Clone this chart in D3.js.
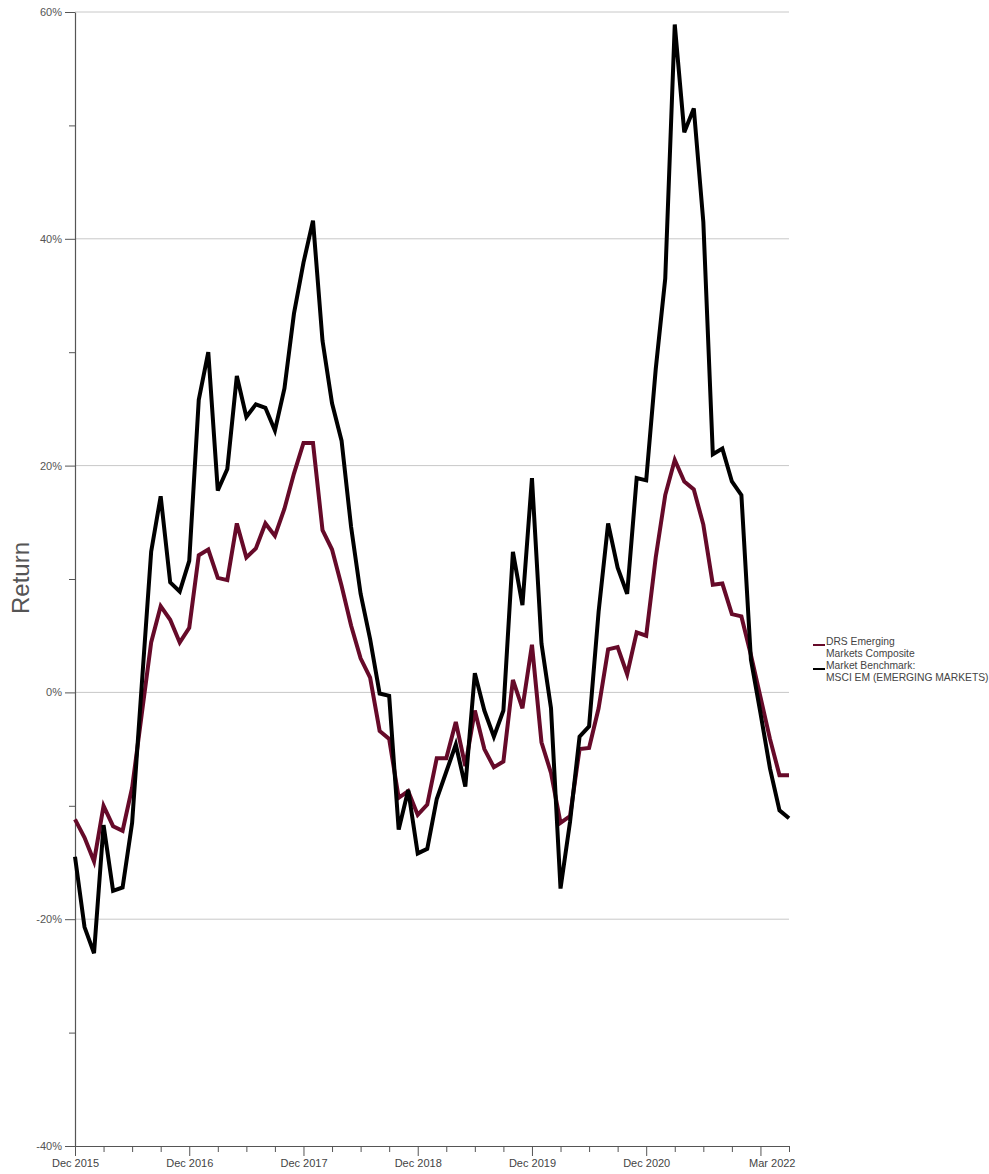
<!DOCTYPE html>
<html>
<head>
<meta charset="utf-8">
<script src="https://cdn.jsdelivr.net/npm/d3@7"></script>
<style>
  html, body { margin: 0; padding: 0; background: #fff; }
  svg { display: block; font-family: "Liberation Sans", Arial, sans-serif; }
</style>
</head>
<body>
<svg id="chart" width="989" height="1174"></svg>
<script>
// Month index 0 = Dec 2015 ... 75 = Mar 2022 (rolling returns, %)
const months = d3.range(0, 76);

const drsComposite = [
  -11.2, -12.8, -14.9, -10.0, -11.8, -12.2, -8.4, -2.0, 4.4, 7.6,
  6.4, 4.4, 5.7, 12.1, 12.6, 10.1, 9.9, 14.9, 11.9, 12.7,
  14.9, 13.8, 16.2, 19.3, 22.0, 22.0, 14.3, 12.6, 9.4, 5.9,
  3.0, 1.3, -3.4, -4.1, -9.3, -8.7, -10.8, -9.9, -5.8, -5.8,
  -2.6, -6.5, -1.6, -5.0, -6.6, -6.1, 1.1, -1.4, 4.2, -4.4,
  -7.1, -11.5, -10.9, -5.0, -4.9, -1.4, 3.8, 4.0, 1.6, 5.3,
  5.0, 11.9, 17.4, 20.5, 18.6, 17.9, 14.8, 9.5, 9.6, 6.9,
  6.7, 3.3, -0.4, -4.1, -7.3, -7.3
];

const msciEM = [
  -14.5, -20.7, -23.0, -11.7, -17.5, -17.2, -11.5, 0.5, 12.4, 17.3,
  9.7, 8.9, 11.6, 25.8, 30.0, 17.8, 19.7, 27.9, 24.3, 25.4,
  25.1, 23.1, 26.8, 33.4, 37.9, 41.6, 31.0, 25.5, 22.2, 14.6,
  8.7, 4.7, -0.1, -0.3, -12.1, -8.6, -14.2, -13.8, -9.4, -7.0,
  -4.6, -8.3, 1.7, -1.6, -3.9, -1.6, 12.4, 7.7, 18.9, 4.3,
  -1.4, -17.3, -11.4, -3.9, -3.0, 7.1, 14.9, 11.0, 8.7, 18.9,
  18.7, 28.5, 36.5, 58.9, 49.4, 51.5, 41.5, 21.0, 21.5, 18.6,
  17.4, 2.9, -1.8, -6.7, -10.4, -11.1
];

const seriesNames = ["DRS Emerging\nMarkets Composite", "Market Benchmark:\nMSCI EM (EMERGING MARKETS)"];
const seriesColors = ["#660a29", "#000000"];

const yTicks = [-40, -30, -20, -10, 0, 10, 20, 30, 40, 50, 60];
const yLabelTicks = [-40, -20, 0, 20, 40, 60];
const xTickMonths = d3.range(0, 76, 3);
const xLabelMonths = [0, 12, 24, 36, 48, 60, 75];
const xLabels = ["Dec 2015", "Dec 2016", "Dec 2017", "Dec 2018", "Dec 2019", "Dec 2020", "Mar 2022"];

(function draw() {
  const svg = d3.select("#chart");
  const mLeft = 75, mRight = 789, mTop = 12, mBottom = 1146;
  const font = "'Liberation Sans', Arial, sans-serif";

  const x = d3.scaleLinear().domain([0, 75]).range([mLeft, mRight]);
  const y = d3.scaleLinear().domain([-40, 60]).range([mBottom, mTop]);

  // gridlines
  svg.append("g").selectAll("line")
    .data(yLabelTicks.filter(d => d !== -40))
    .join("line")
    .attr("x1", mLeft).attr("x2", mRight)
    .attr("y1", d => y(d)).attr("y2", d => y(d))
    .attr("stroke", "#c8c8c8").attr("stroke-width", 1);

  // y axis
  const yAxis = d3.axisLeft(y).tickValues(yTicks)
    .tickSize(0).tickFormat(d => yLabelTicks.includes(d) ? d + "%" : "");
  const gy = svg.append("g").attr("transform", `translate(${mLeft},0)`).call(yAxis);
  gy.select(".domain").attr("stroke", "#555").attr("stroke-width", 1.2);
  gy.selectAll(".tick line")
    .attr("x2", d => yLabelTicks.includes(d) ? -10 : -6)
    .attr("stroke", "#555");
  gy.selectAll(".tick text")
    .attr("x", -13).attr("fill", "#555").attr("font-size", 11)
    .attr("font-family", font);

  // x axis
  const xAxis = d3.axisBottom(x).tickValues(xTickMonths).tickSize(0)
    .tickFormat(d => { const i = xLabelMonths.indexOf(d); return i >= 0 ? xLabels[i] : ""; });
  const gx = svg.append("g").attr("transform", `translate(0,${mBottom})`).call(xAxis);
  gx.select(".domain").attr("stroke", "#555").attr("stroke-width", 1.2);
  gx.selectAll(".tick line")
    .attr("y2", d => d % 12 === 0 ? 10 : 6)
    .attr("stroke", "#555");
  gx.selectAll(".tick text")
    .attr("y", 13).attr("fill", "#444").attr("font-size", 11)
    .attr("font-family", font);
  gx.selectAll(".tick").filter(d => d === 75).select("text")
    .attr("text-anchor", "end").attr("dx", 6);

  // y axis title
  svg.append("text")
    .attr("transform", `translate(29,${(mTop + mBottom) / 2 - 1}) rotate(-90)`)
    .attr("text-anchor", "middle")
    .attr("font-size", 24).attr("fill", "#555")
    .text("Return");

  // lines
  const line = d3.line().x((d, i) => x(months[i])).y(d => y(d));
  [drsComposite, msciEM].forEach((s, k) => {
    svg.append("path").datum(s)
      .attr("d", line)
      .attr("fill", "none")
      .attr("stroke", seriesColors[k])
      .attr("stroke-width", 4)
      .attr("stroke-linejoin", "miter");
  });

  // legend
  const legend = svg.append("g").attr("transform", "translate(813,645)");
  seriesNames.forEach((name, k) => {
    const g = legend.append("g").attr("transform", `translate(0,${k * 24})`);
    g.append("line").attr("x1", 0).attr("x2", 12).attr("y1", 0).attr("y2", 0)
      .attr("stroke", seriesColors[k]).attr("stroke-width", 2);
    const t = g.append("text").attr("x", 13).attr("y", 0)
      .attr("font-size", 10.3).attr("fill", "#444");
    name.split("\n").forEach((ln, j) => {
      t.append("tspan").attr("x", 13).attr("dy", j === 0 ? 0 : 12).text(ln);
    });
  });
})();
</script>
</body>
</html>
